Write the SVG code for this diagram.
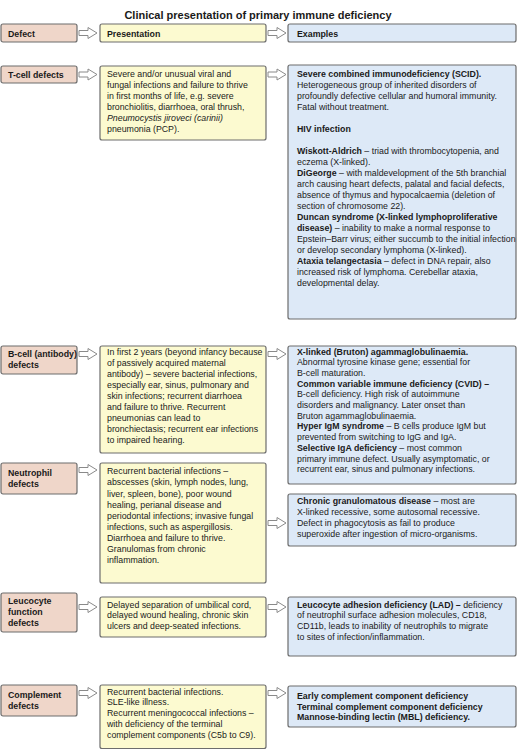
<svg xmlns="http://www.w3.org/2000/svg" width="518" height="750" viewBox="0 0 518 750">
<style>
.d{fill:#efd6c9;stroke:#6d6d6d;stroke-width:1.2}
.p{fill:#fcfad0;stroke:#6d6d6d;stroke-width:1.2}
.e{fill:#dde9f7;stroke:#6d6d6d;stroke-width:1.2}
text{font-family:"Liberation Sans",Arial,sans-serif;font-size:8.8px;fill:#1a1a1a}
.b{font-weight:bold}
.i{font-style:italic}
.t{font-size:11px;font-weight:bold}
.arr{fill:#fff;stroke:#8a8a8a;stroke-width:1}
</style>
<defs>
<path id="ar" d="M0,-2.5 H9 V-5.5 L18,0 L9,5.5 V2.5 H0 Z"/>
</defs>
<rect width="518" height="750" fill="#fff"/>
<text class="t" x="258" y="19" text-anchor="middle">Clinical presentation of primary immune deficiency</text>

<g id="hdr-defect"><rect class="d" x="1" y="24" width="76" height="18" rx="2"/><text class="b" x="8" y="36.5">Defect</text></g>
<g id="hdr-presentation"><rect class="p" x="100" y="24" width="166" height="18" rx="2"/><text class="b" x="107" y="36.5">Presentation</text></g>
<g id="hdr-examples"><rect class="e" x="288" y="24" width="228" height="18" rx="2"/><text class="b" x="297" y="36.5">Examples</text></g>

<g id="tcell-defect"><rect class="d" x="1" y="66" width="76" height="17" rx="2"/><text class="b" x="8" y="77.5">T-cell defects</text></g>
<g id="tcell-presentation"><rect class="p" x="100" y="66" width="166" height="74" rx="2"/>
<text x="107" y="76.5"><tspan x="107">Severe and/or unusual viral and</tspan><tspan x="107" dy="11">fungal infections and failure to thrive</tspan><tspan x="107" dy="11">in first months of life, e.g. severe</tspan><tspan x="107" dy="11">bronchiolitis, diarrhoea, oral thrush,</tspan><tspan x="107" dy="11" class="i">Pneumocystis jiroveci (carinii)</tspan><tspan x="107" dy="11">pneumonia (PCP).</tspan></text></g>
<g id="tcell-examples"><rect class="e" x="288" y="65" width="228" height="254" rx="2"/>
<text x="297" y="77"><tspan x="297" class="b">Severe combined immunodeficiency (SCID).</tspan><tspan x="297" dy="11">Heterogeneous group of inherited disorders of</tspan><tspan x="297" dy="11">profoundly defective cellular and humoral immunity.</tspan><tspan x="297" dy="11">Fatal without treatment.</tspan><tspan x="297" dy="22" class="b">HIV infection</tspan><tspan x="297" dy="22" class="b">Wiskott-Aldrich</tspan><tspan> – triad with thrombocytopenia, and</tspan><tspan x="297" dy="11">eczema (X-linked).</tspan><tspan x="297" dy="11" class="b">DiGeorge</tspan><tspan> – with maldevelopment of the 5th branchial</tspan><tspan x="297" dy="11">arch causing heart defects, palatal and facial defects,</tspan><tspan x="297" dy="11">absence of thymus and hypocalcaemia (deletion of</tspan><tspan x="297" dy="11">section of chromosome 22).</tspan><tspan x="297" dy="11" class="b">Duncan syndrome (X-linked lymphoproliferative</tspan><tspan x="297" dy="11" class="b">disease)</tspan><tspan> – inability to make a normal response to</tspan><tspan x="297" dy="11">Epstein–Barr virus; either succumb to the initial infection</tspan><tspan x="297" dy="11">or develop secondary lymphoma (X-linked).</tspan><tspan x="297" dy="11" class="b">Ataxia telangectasia</tspan><tspan> – defect in DNA repair, also</tspan><tspan x="297" dy="11">increased risk of lymphoma. Cerebellar ataxia,</tspan><tspan x="297" dy="11">developmental delay.</tspan></text></g>

<g id="bcell-defect"><rect class="d" x="1" y="346" width="76" height="28" rx="2"/><text class="b" x="8" y="357"><tspan x="8">B-cell (antibody)</tspan><tspan x="8" dy="10.5">defects</tspan></text></g>
<g id="bcell-presentation"><rect class="p" x="100" y="346" width="166" height="107" rx="2"/>
<text x="107" y="354.5"><tspan x="107">In first 2 years (beyond infancy because</tspan><tspan x="107" dy="11.1">of  passively acquired maternal</tspan><tspan x="107" dy="11.1">antibody) – severe bacterial infections,</tspan><tspan x="107" dy="11.1">especially ear, sinus, pulmonary and</tspan><tspan x="107" dy="11.1">skin infections; recurrent diarrhoea</tspan><tspan x="107" dy="11.1">and failure to thrive.  Recurrent</tspan><tspan x="107" dy="11.1">pneumonias can lead to</tspan><tspan x="107" dy="11.1">bronchiectasis; recurrent ear infections</tspan><tspan x="107" dy="11.1">to impaired hearing.</tspan></text></g>
<g id="bcell-examples"><rect class="e" x="288" y="346" width="228" height="138" rx="2"/>
<text x="297" y="354.5"><tspan x="297" class="b">X-linked (Bruton) agammaglobulinaemia.</tspan><tspan x="297" dy="10.7">Abnormal tyrosine kinase gene; essential for</tspan><tspan x="297" dy="10.7">B-cell maturation.</tspan><tspan x="297" dy="10.7" class="b">Common variable immune deficiency (CVID) –</tspan><tspan x="297" dy="10.7">B-cell deficiency. High risk of autoimmune</tspan><tspan x="297" dy="10.7">disorders and malignancy. Later onset than</tspan><tspan x="297" dy="10.7">Bruton agammaglobulinaemia.</tspan><tspan x="297" dy="10.7" class="b">Hyper IgM syndrome</tspan><tspan> – B cells produce IgM but</tspan><tspan x="297" dy="10.7">prevented from switching to IgG and IgA.</tspan><tspan x="297" dy="10.7" class="b">Selective IgA deficiency</tspan><tspan> – most common</tspan><tspan x="297" dy="10.7">primary immune defect. Usually asymptomatic, or</tspan><tspan x="297" dy="10.7">recurrent  ear, sinus and pulmonary infections.</tspan></text></g>

<g id="neutrophil-defect"><rect class="d" x="1" y="463" width="76" height="31" rx="2"/><text class="b" x="8" y="476"><tspan x="8">Neutrophil</tspan><tspan x="8" dy="10.7">defects</tspan></text></g>
<g id="neutrophil-presentation"><rect class="p" x="100" y="463" width="166" height="120" rx="2"/>
<text x="107" y="474.3"><tspan x="107">Recurrent bacterial infections –</tspan><tspan x="107" dy="11.1">abscesses (skin, lymph nodes, lung,</tspan><tspan x="107" dy="11.1">liver, spleen, bone), poor wound</tspan><tspan x="107" dy="11.1">healing, perianal disease and</tspan><tspan x="107" dy="11.1">periodontal infections; invasive fungal</tspan><tspan x="107" dy="11.1">infections, such as aspergillosis.</tspan><tspan x="107" dy="11.1">Diarrhoea and failure to thrive.</tspan><tspan x="107" dy="11.1">Granulomas from chronic</tspan><tspan x="107" dy="11.1">inflammation.</tspan></text></g>
<g id="neutrophil-examples"><rect class="e" x="288" y="494" width="228" height="52" rx="2"/>
<text x="297" y="503.5"><tspan x="297" class="b">Chronic granulomatous disease</tspan><tspan> – most are</tspan><tspan x="297" dy="11">X-linked recessive, some autosomal recessive.</tspan><tspan x="297" dy="11">Defect in phagocytosis as fail to produce</tspan><tspan x="297" dy="11">superoxide after ingestion of micro-organisms.</tspan></text></g>

<g id="leucocyte-defect"><rect class="d" x="1" y="593" width="76" height="39" rx="2"/><text class="b" x="8" y="604"><tspan x="8">Leucocyte</tspan><tspan x="8" dy="11">function</tspan><tspan x="8" dy="11">defects</tspan></text></g>
<g id="leucocyte-presentation"><rect class="p" x="100" y="597" width="166" height="40" rx="2"/>
<text x="107" y="607.5"><tspan x="107">Delayed separation of umbilical cord,</tspan><tspan x="107" dy="10.8">delayed wound healing, chronic skin</tspan><tspan x="107" dy="10.8">ulcers and deep-seated infections.</tspan></text></g>
<g id="leucocyte-examples"><rect class="e" x="288" y="597" width="228" height="59" rx="2"/>
<text x="297" y="607.5"><tspan x="297" class="b">Leucocyte adhesion deficiency (LAD) –</tspan><tspan> deficiency</tspan><tspan x="297" dy="10.8">of neutrophil surface adhesion molecules, CD18,</tspan><tspan x="297" dy="10.8">CD11b, leads to inability of neutrophils to migrate</tspan><tspan x="297" dy="10.8">to sites of infection/inflammation.</tspan></text></g>

<g id="complement-defect"><rect class="d" x="1" y="685" width="76" height="31" rx="2"/><text class="b" x="8" y="698"><tspan x="8">Complement</tspan><tspan x="8" dy="11">defects</tspan></text></g>
<g id="complement-presentation"><rect class="p" x="100" y="685" width="166" height="63.5" rx="2"/>
<text x="107" y="694.5"><tspan x="107">Recurrent bacterial infections.</tspan><tspan x="107" dy="10.8">SLE-like illness.</tspan><tspan x="107" dy="10.8">Recurrent meningococcal infections –</tspan><tspan x="107" dy="10.8">with deficiency of the terminal</tspan><tspan x="107" dy="10.8">complement components (C5b to C9).</tspan></text></g>
<g id="complement-examples"><rect class="e" x="288" y="686" width="228" height="41" rx="2"/>
<text x="297" y="699" class="b"><tspan x="297">Early complement component deficiency</tspan><tspan x="297" dy="10.7">Terminal complement component deficiency</tspan><tspan x="297" dy="10.7">Mannose-binding lectin (MBL) deficiency.</tspan></text></g>

<g id="connectors" class="arr">
<use href="#ar" x="79" y="33"/><use href="#ar" x="268" y="33"/>
<use href="#ar" x="79" y="74.5"/><use href="#ar" x="268" y="74.5"/>
<use href="#ar" x="79" y="354"/><use href="#ar" x="268" y="354"/>
<use href="#ar" x="79" y="470"/><use href="#ar" x="268" y="523"/>
<use href="#ar" x="79" y="607"/><use href="#ar" x="268" y="607"/>
<use href="#ar" x="79" y="693"/><use href="#ar" x="268" y="693"/>
</g>
</svg>
